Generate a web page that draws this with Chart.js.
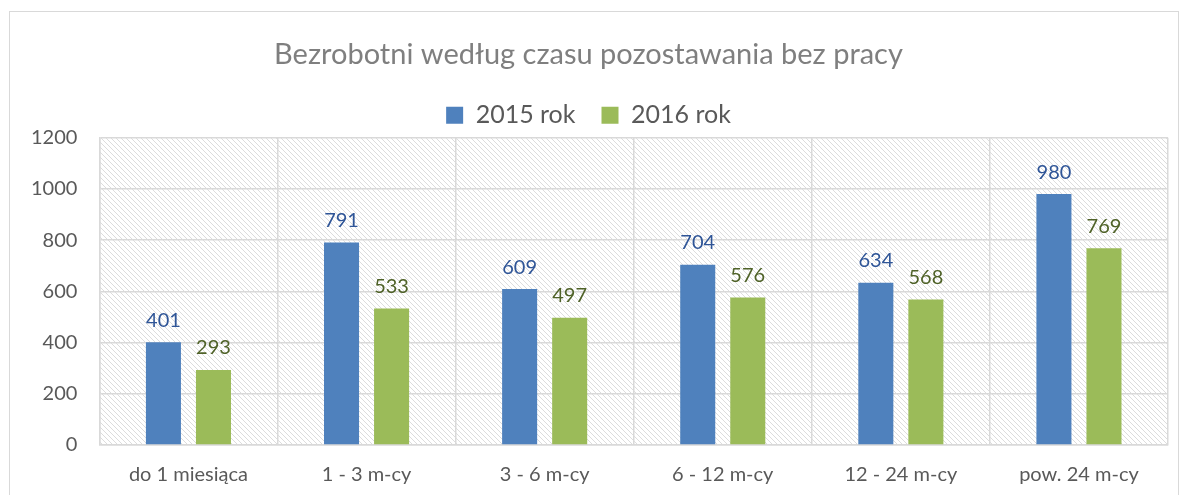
<!DOCTYPE html>
<html>
<head>
<meta charset="utf-8">
<script src="https://cdn.jsdelivr.net/npm/chart.js@4"></script>
<style>
  html, body { margin: 0; padding: 0; background: #fff; }
  #box { position: absolute; left: 9px; top: 11px; width: 1168px; height: 495px; border: 1.5px solid #d9d9d9; }
  #wrap { position: absolute; left: 0; top: 0; width: 1168px; height: 494px; }
</style>
</head>
<body>
<div id="box"><div id="wrap"><canvas id="chart"></canvas></div></div>
<script>
// categories and values
var categories = ['do 1 miesiąca', '1 - 3 m-cy', '3 - 6 m-cy', '6 - 12 m-cy', '12 - 24 m-cy', 'pow. 24 m-cy'];
var values2015 = [401, 791, 609, 704, 634, 980];
var values2016 = [293, 533, 497, 576, 568, 769];
var seriesNames = ['2015 rok', '2016 rok'];
var yTicks = [0, 200, 400, 600, 800, 1000, 1200];

var FONT = 'Lato, "Open Sans", sans-serif';

// hatch pattern for the plot background
function makeHatch() {
    var c = document.createElement('canvas');
    c.width = 5; c.height = 5;
    var g = c.getContext('2d');
    g.fillStyle = '#ffffff';
    g.fillRect(0, 0, 5, 5);
    g.strokeStyle = '#dcdcdc';
    g.lineWidth = 1;
    g.beginPath();
    g.moveTo(-1, -1); g.lineTo(6, 6);
    g.moveTo(-1, 4); g.lineTo(1, 6);
    g.moveTo(4, -1); g.lineTo(6, 1);
    g.stroke();
    return g.createPattern(c, 'repeat');
}

var hatchPlugin = {
    id: 'hatch',
    beforeDraw: function (chart) {
        var a = chart.chartArea, ctx = chart.ctx;
        ctx.save();
        ctx.fillStyle = makeHatch();
        ctx.fillRect(a.left, a.top, a.right - a.left, a.bottom - a.top);
        ctx.restore();
    }
};

var labelPlugin = {
    id: 'barLabels',
    afterDatasetsDraw: function (chart) {
        var ctx = chart.ctx;
        ctx.save();
        ctx.font = '20px ' + FONT;
        ctx.textAlign = 'center';
        ctx.textBaseline = 'bottom';
        chart.data.datasets.forEach(function (ds, i) {
            ctx.fillStyle = ds.labelColor;
            chart.getDatasetMeta(i).data.forEach(function (bar, j) {
                ctx.fillText(ds.data[j], bar.x, bar.y - 12);
            });
        });
        ctx.restore();
    }
};

new Chart(document.getElementById('chart'), {
    type: 'bar',
    data: {
        labels: categories,
        datasets: [{
            label: seriesNames[0],
            data: values2015,
            backgroundColor: '#4f81bd',
            labelColor: '#2f5597'
        }, {
            label: seriesNames[1],
            data: values2016,
            backgroundColor: '#9bbb59',
            labelColor: '#4f6228'
        }]
    },
    options: {
        responsive: true,
        maintainAspectRatio: false,
        animation: false,
        categoryPercentage: 0.562,
        barPercentage: 0.7,
        layout: { padding: { left: -1, right: 10, top: 12, bottom: 1 } },
        plugins: {
            title: {
                display: true,
                text: 'Bezrobotni według czasu pozostawania bez pracy',
                color: '#7f7f7f',
                font: { family: FONT, size: 29, weight: 'normal' },
                padding: { top: 13, bottom: 5 }
            },
            legend: {
                position: 'top',
                labels: {
                    color: '#595959',
                    font: { family: FONT, size: 25 },
                    boxWidth: 17,
                    boxHeight: 17,
                    padding: 26
                }
            },
            tooltip: { enabled: false }
        },
        scales: {
            x: {
                grid: { color: '#d9d9d9', lineWidth: 1.5, offset: true, drawTicks: false },
                border: { color: '#d9d9d9', width: 1.5 },
                ticks: { color: '#595959', font: { family: FONT, size: 20 }, padding: 18 }
            },
            y: {
                min: 0,
                max: 1200,
                afterBuildTicks: function (axis) {
                    axis.ticks = yTicks.map(function (v) { return { value: v }; });
                },
                grid: { color: '#d9d9d9', lineWidth: 1.5, drawTicks: false },
                border: { color: '#d9d9d9', width: 1.5 },
                ticks: {
                    color: '#595959',
                    font: { family: FONT, size: 20 },
                    padding: 22,
                    callback: function (v) { return String(v); }
                }
            }
        }
    },
    plugins: [hatchPlugin, labelPlugin]
});
</script>
</body>
</html>
